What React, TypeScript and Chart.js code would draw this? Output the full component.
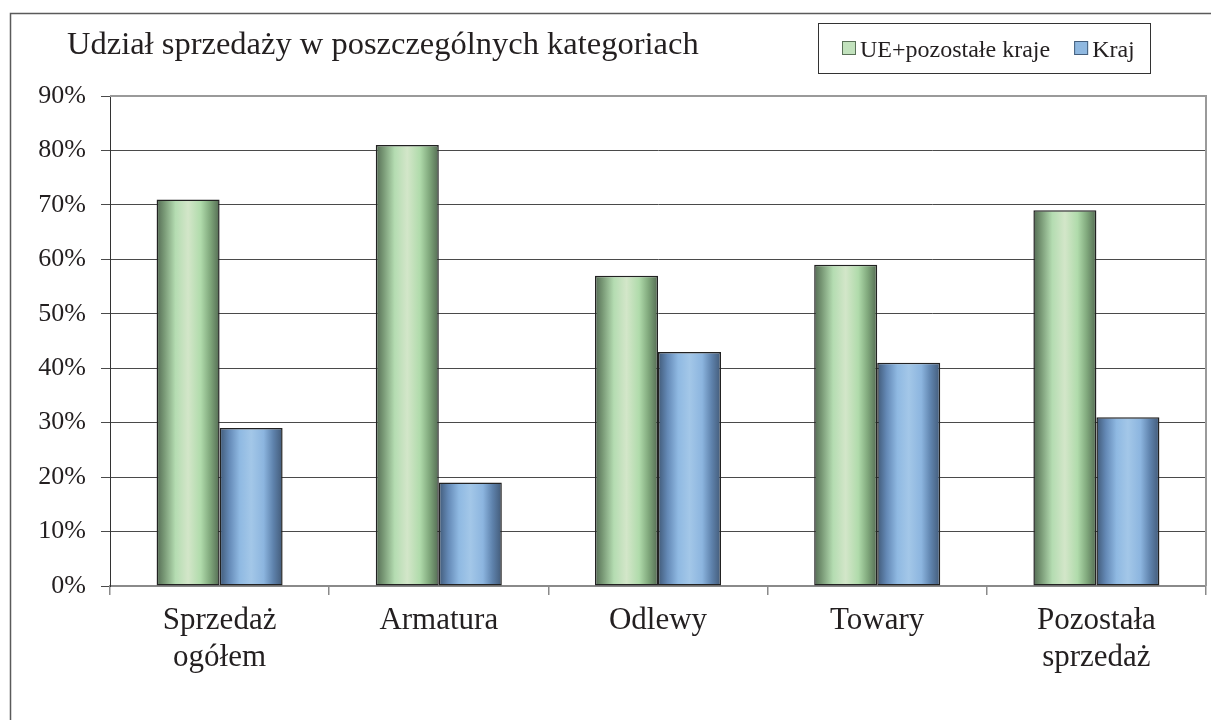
import React, { useEffect, useRef } from "react";
import { Chart, registerables } from "chart.js";

Chart.register(...registerables);

const TITLE = "Udział sprzedaży w poszczególnych kategoriach";
const CATEGORIES: string[][] = [
  ["Sprzedaż", "ogółem"],
  ["Armatura"],
  ["Odlewy"],
  ["Towary"],
  ["Pozostała", "sprzedaż"],
];
const SERIES_NAMES = ["UE+pozostałe kraje", "Kraj"];
const EXPORT_VALUES = [71, 81, 57, 59, 69];
const DOMESTIC_VALUES = [29, 19, 43, 41, 31];
const Y_MAX = 90;
const Y_STEP = 10;

const CATEGORY_PCT = 0.575;
const FONT = '"Liberation Serif", "Times New Roman", serif';
const TEXT_COLOR = "#231f20";

const GREEN_STOPS: [number, string][] = [
  [0, "#546b54"],
  [0.12, "#789875"],
  [0.3, "#b4dcb1"],
  [0.5, "#d3e6c9"],
  [0.7, "#b0dbab"],
  [0.85, "#80a87c"],
  [1, "#546b53"],
];
const BLUE_STOPS: [number, string][] = [
  [0, "#405977"],
  [0.15, "#6489b6"],
  [0.32, "#8fb9e2"],
  [0.5, "#a3c7e8"],
  [0.7, "#8cb5df"],
  [0.85, "#5f83ad"],
  [1, "#425a78"],
];

function makeGradient(stops: [number, string][]) {
  return (ctx: any) => {
    const chart = ctx.chart;
    const xs = chart.scales && chart.scales.x;
    if (!xs || ctx.dataIndex === undefined || !chart.chartArea) {
      return stops[3][1];
    }
    const center = xs.getPixelForValue(ctx.dataIndex);
    const catW = xs.width / CATEGORIES.length;
    const barW = (catW * CATEGORY_PCT) / 2;
    const left = ctx.datasetIndex === 0 ? center - barW : center;
    const g = chart.ctx.createLinearGradient(left, 0, left + barW, 0);
    stops.forEach(([o, c]) => g.addColorStop(o, c));
    return g;
  };
}

const decorPlugin = {
  id: "decor",
  beforeDraw(chart: any) {
    const c = chart.ctx;
    c.save();
    c.fillStyle = "#ffffff";
    c.fillRect(0, 0, chart.width, chart.height);
    // outer frame
    c.strokeStyle = "#5a5a5a";
    c.lineWidth = 1.5;
    c.beginPath();
    c.moveTo(10.5, chart.height + 2);
    c.lineTo(10.5, 13.5);
    c.lineTo(chart.width + 2, 13.5);
    c.stroke();
    // title
    c.font = "32.5px " + FONT;
    c.fillStyle = TEXT_COLOR;
    c.textBaseline = "alphabetic";
    c.textAlign = "left";
    c.fillText(TITLE, 67, 54);
    // legend
    c.strokeStyle = "#333333";
    c.lineWidth = 1;
    c.strokeRect(818.5, 23.5, 332, 50);
    c.font = "24px " + FONT;
    const swatchFill = ["#c2e2bd", "#8fb8e0"];
    const swatchBorder = ["#5a7158", "#445e7c"];
    let x = 842;
    SERIES_NAMES.forEach((name, i) => {
      c.fillStyle = swatchFill[i];
      c.fillRect(x, 41, 14, 14);
      c.strokeStyle = swatchBorder[i];
      c.lineWidth = 1;
      c.strokeRect(x + 0.5, 41.5, 13, 13);
      c.fillStyle = TEXT_COLOR;
      c.fillText(name, x + 18, 57);
      x += 18 + c.measureText(name).width + 24;
    });
    c.restore();
  },
  afterDraw(chart: any) {
    const { left, right, top } = chart.chartArea;
    const c = chart.ctx;
    c.save();
    c.strokeStyle = "#9a9a9a";
    c.lineWidth = 2;
    c.beginPath();
    c.moveTo(left, top);
    c.lineTo(right, top);
    c.lineTo(right, chart.chartArea.bottom);
    c.stroke();
    c.restore();
  },
};

export default function App() {
  const ref = useRef<HTMLCanvasElement | null>(null);

  useEffect(() => {
    if (!ref.current) return;
    const chart = new Chart(ref.current, {
      type: "bar",
      data: {
        labels: CATEGORIES,
        datasets: [
          {
            label: SERIES_NAMES[0],
            data: EXPORT_VALUES,
            backgroundColor: makeGradient(GREEN_STOPS),
            borderColor: "#222222",
            borderWidth: 1.5,
            borderSkipped: false,
            categoryPercentage: CATEGORY_PCT,
            barPercentage: 1,
          },
          {
            label: SERIES_NAMES[1],
            data: DOMESTIC_VALUES,
            backgroundColor: makeGradient(BLUE_STOPS),
            borderColor: "#222222",
            borderWidth: 1.5,
            borderSkipped: false,
            categoryPercentage: CATEGORY_PCT,
            barPercentage: 1,
          },
        ],
      },
      options: {
        animation: false,
        responsive: true,
        maintainAspectRatio: false,
        layout: { padding: { top: 96, right: 5, left: 0, bottom: 0 } },
        plugins: {
          legend: { display: false },
          title: { display: false },
          tooltip: { enabled: false },
        },
        scales: {
          x: {
            offset: true,
            afterFit: (s: any) => {
              s.height = 134;
            },
            grid: {
              offset: true,
              drawOnChartArea: false,
              drawTicks: true,
              tickLength: 9,
              color: "#8a8a8a",
              lineWidth: 1.5,
            },
            border: { display: true, color: "#8a8a8a", width: 2 },
            ticks: {
              color: TEXT_COLOR,
              font: { family: FONT, size: 31, lineHeight: 1.17 },
              padding: 8,
              maxRotation: 0,
              autoSkip: false,
            },
          },
          y: {
            min: 0,
            max: Y_MAX,
            afterFit: (s: any) => {
              s.width = 110;
            },
            grid: {
              color: "#4a4a4a",
              lineWidth: 1,
              drawTicks: true,
              tickLength: 9,
            },
            border: { display: true, color: "#333333", width: 1 },
            ticks: {
              stepSize: Y_STEP,
              color: TEXT_COLOR,
              font: { family: FONT, size: 26 },
              padding: 15,
              callback: (v: any) => v + "%",
            },
          },
        },
      },
      plugins: [decorPlugin],
    });
    return () => chart.destroy();
  }, []);

  return (
    <div style={{ position: "absolute", left: 0, top: 0, width: 1211, height: 720, background: "#fff" }}>
      <canvas ref={ref} />
    </div>
  );
}
